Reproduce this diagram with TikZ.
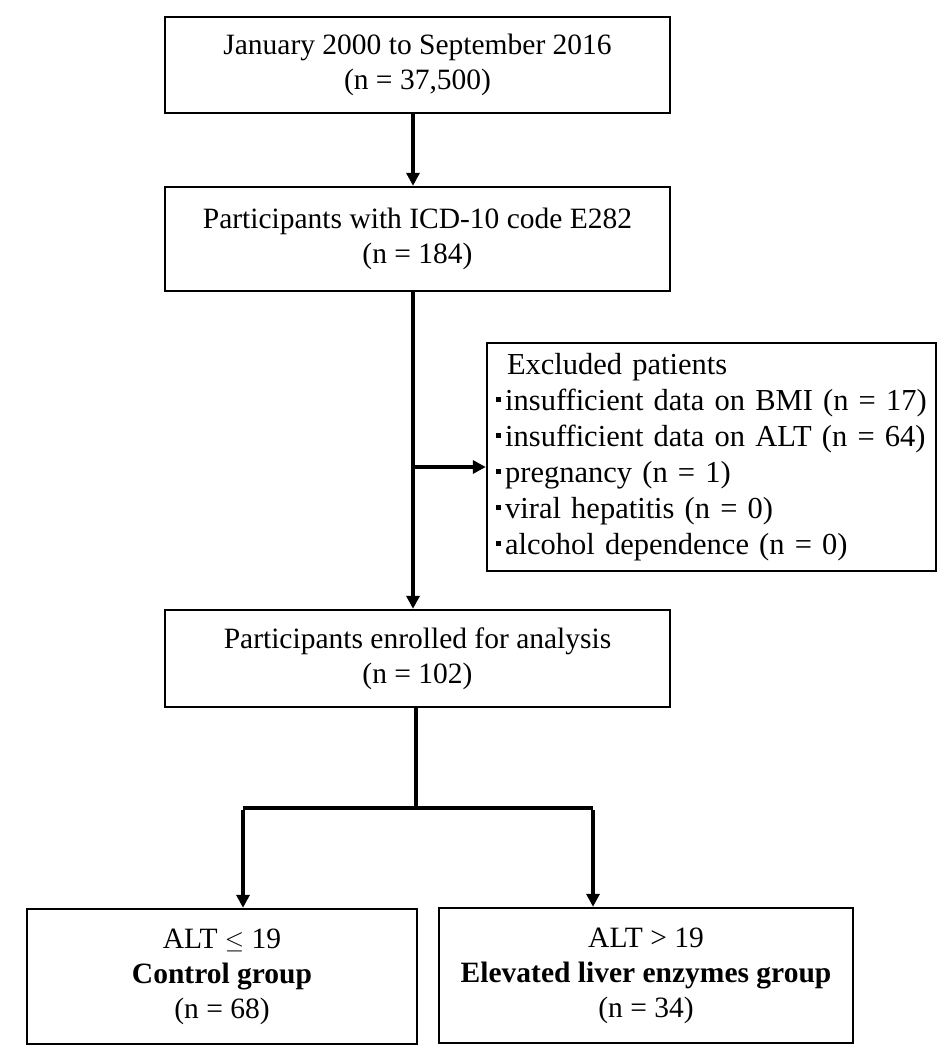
\documentclass[tikz,border=0pt]{standalone}
\usepackage{fontspec}
\setmainfont{Liberation Serif}
\usetikzlibrary{arrows.meta}
\newcommand{\sqbul}{\rule[0.28em]{0.15em}{0.15em}\hspace{0.15em}}
\begin{document}
\begin{tikzpicture}[x=1pt,y=-1pt,
  box/.style={draw, line width=2.4pt, align=center, inner sep=0pt, font=\fontsize{29.5}{35}\selectfont},
  conn/.style={line width=3.6pt},
  arr/.style={line width=3.6pt, -{Triangle[length=13pt,width=13pt]}},
]
\useasboundingbox (0,0) rectangle (945,1062);
\node[box, minimum width=505pt, minimum height=96pt] (b1) at (417.5,65)
  {January 2000 to September 2016\\(n = 37,500)};
\node[box, minimum width=505pt, minimum height=104pt] (b2) at (417.5,239)
  {Participants with ICD-10 code E282\\(n = 184)};
\node[box, minimum width=447pt, minimum height=228pt, align=left, text width=431pt, inner xsep=9pt,
      font=\fontsize{30.5}{36}\selectfont] (ex) at (711.5,457)
  {\hspace*{11pt}Excluded patients\\
   \sqbul insufficient data on BMI (n = 17)\\
   \sqbul insufficient data on ALT (n = 64)\\
   \sqbul pregnancy (n = 1)\\
   \sqbul viral hepatitis (n = 0)\\
   \sqbul alcohol dependence (n = 0)};
\node[box, minimum width=505pt, minimum height=97pt] (b3) at (417.5,658.5)
  {Participants enrolled for analysis\\(n = 102)};
\node[box, minimum width=390pt, minimum height=135pt] (gl) at (222,976.5)
  {ALT $\leq$ 19\\\textbf{Control group}\\(n = 68)};
\node[box, minimum width=414pt, minimum height=135pt] (gr) at (646,975.5)
  {ALT > 19\\\textbf{Elevated liver enzymes group}\\(n = 34)};

\coordinate (stem) at (413,0);
\coordinate (split) at (416,808);
\coordinate (lx) at (243,0);
\coordinate (rx) at (593,0);
\coordinate (ey) at (0,467);

\draw[arr] (b1.south -| stem) -- (b2.north -| stem);
\draw[arr] (b2.south -| stem) -- (b3.north -| stem);
\draw[arr] (stem |- ey) -- (ex.west |- ey);
\draw[conn] (b3.south -| split) -- (split);
\draw[conn] (lx |- split) -- (rx |- split);
\draw[arr] ([yshift=-1.8pt]lx |- split) -- (gl.north -| lx);
\draw[arr] ([yshift=-1.8pt]rx |- split) -- (gr.north -| rx);
\end{tikzpicture}
\end{document}
